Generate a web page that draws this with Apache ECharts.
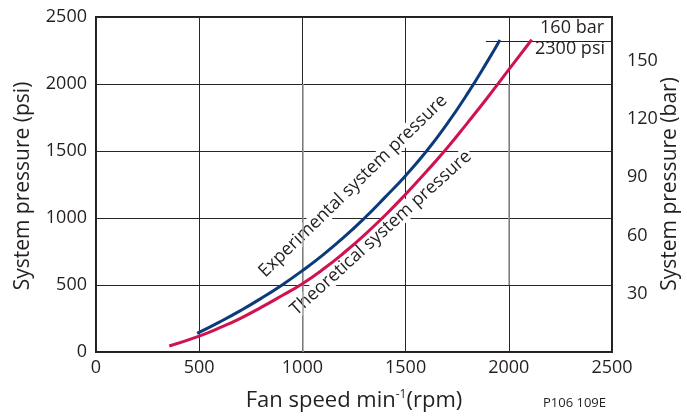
<!DOCTYPE html>
<html><head><meta charset="utf-8">
<script src="https://cdn.jsdelivr.net/npm/echarts@6/dist/echarts.min.js"></script>
<style>html,body{margin:0;padding:0;background:#fff}#c{width:687px;height:416px}</style>
</head><body><div id="c"></div>
<script>
// Fan speed (rpm) vs system pressure (psi)
const experimentalRpm = [490, 600, 700, 800, 900, 1000, 1100, 1200, 1300, 1400, 1500, 1600, 1700, 1800, 1900, 1957];
const experimentalPsi = [139, 225, 309, 400, 499, 607, 725, 855, 998, 1154, 1316, 1496, 1700, 1928, 2178, 2329];
const theoreticalRpm = [355, 500, 600, 700, 800, 900, 1000, 1100, 1200, 1300, 1400, 1500, 1600, 1700, 1800, 1900, 2000, 2111];
const theoreticalPsi = [45, 119, 181, 251, 333, 420, 510, 617, 739, 873, 1019, 1177, 1345, 1520, 1710, 1905, 2107, 2330];
const xTicks = [0, 500, 1000, 1500, 2000, 2500];
const psiTicks = [0, 500, 1000, 1500, 2000, 2500];
const barTicks = [30, 60, 90, 120, 150];
const PSI_PER_BAR = 14.5038;
const limitBar = 160, limitPsiLabel = 2300;
const limitLineStartRpm = 1889;
// lighter (grey) segments of the vertical grid lines: [rpm, fromPsi, toPsi]
const greyGridSegments = [[1000, 0, 2000], [2000, 500, 2000]];
const labels = {
  experimental: 'Experimental system pressure',
  theoretical: 'Theoretical system pressure',
  yLeft: 'System pressure (psi)',
  yRight: 'System pressure (bar)',
  code: 'P106 109E'
};

const FONT = '"Open Sans", sans-serif';
const TXT = '#231f20';
const chart = echarts.init(document.getElementById('c'));
const zip = (a, b) => a.map((v, i) => [v, b[i]]);
const limitPsi = limitBar * PSI_PER_BAR;

chart.setOption({
  animation: false,
  grid: { left: 96, right: 75, top: 17, bottom: 64, show: true, borderColor: '#231f20', borderWidth: 2 },
  xAxis: {
    type: 'value', min: xTicks[0], max: xTicks[xTicks.length - 1], interval: 500,
    axisLine: { show: false }, axisTick: { show: false },
    splitLine: { show: true, lineStyle: { color: '#2a2627', width: 1 } },
    axisLabel: { color: TXT, fontFamily: FONT, fontSize: 18, margin: 7, formatter: v => String(v) }
  },
  yAxis: [{
    type: 'value', min: psiTicks[0], max: psiTicks[psiTicks.length - 1], interval: 500,
    axisLine: { show: false }, axisTick: { show: false },
    splitLine: { show: true, lineStyle: { color: '#2a2627', width: 1 } },
    axisLabel: { color: TXT, fontFamily: FONT, fontSize: 18, margin: 9, formatter: v => String(v) }
  }, {
    type: 'value', position: 'right', min: 0, max: psiTicks[psiTicks.length - 1] / PSI_PER_BAR, interval: 30,
    axisLine: { show: false }, axisTick: { show: false }, splitLine: { show: false },
    axisLabel: { color: TXT, fontFamily: FONT, fontSize: 18, margin: 15,
      formatter: v => barTicks.includes(v) ? String(v) : '' }
  }],
  series: [{
    type: 'line', data: [], z: 1, silent: true,
    markLine: {
      silent: true, symbol: 'none', label: { show: false },
      lineStyle: { color: '#9a9a9a', width: 1.5, type: 'solid' },
      data: greyGridSegments.map(s => [{ coord: [s[0], s[1]] }, { coord: [s[0], s[2]] }])
    }
  }, {
    type: 'line', data: zip(theoreticalRpm, theoreticalPsi), smooth: true, symbol: 'none',
    lineStyle: { color: '#d0134f', width: 3 }, z: 5
  }, {
    type: 'line', data: zip(experimentalRpm, experimentalPsi), smooth: true, symbol: 'none',
    lineStyle: { color: '#0b3b7a', width: 3 }, z: 6,
    markLine: {
      silent: true, symbol: 'none', label: { show: false },
      lineStyle: { color: '#231f20', width: 1, type: 'solid' },
      data: [[{ coord: [limitLineStartRpm, limitPsi] }, { coord: [xTicks[xTicks.length - 1], limitPsi] }]]
    }
  }],
  graphic: [
    { type: 'text', x: 23, y: 186, rotation: Math.PI / 2, z: 100,
      style: { text: labels.yLeft, font: '21px ' + FONT, fill: TXT, align: 'center', verticalAlign: 'middle' } },
    { type: 'text', x: 670, y: 184, rotation: Math.PI / 2, z: 100,
      style: { text: labels.yRight, font: '21px ' + FONT, fill: TXT, align: 'center', verticalAlign: 'middle' } },
    { type: 'text', x: 354, y: 401, z: 100,
      style: { text: 'Fan speed min{s|-1}(rpm)', font: '22px ' + FONT, fill: TXT, align: 'center', verticalAlign: 'middle',
        rich: { s: { fontSize: 12, fontFamily: FONT, fill: TXT, verticalAlign: 'top', lineHeight: 24, padding: [0, 0, 10, 0] } } } },
    { type: 'text', x: 606, y: 403, z: 100,
      style: { text: labels.code, font: '13px ' + FONT, fill: TXT, align: 'right', verticalAlign: 'middle' } },
    { type: 'text', x: 604, y: 28, z: 100,
      style: { text: limitBar + ' bar', font: '18px ' + FONT, fill: TXT, align: 'right', verticalAlign: 'middle' } },
    { type: 'text', x: 605, y: 49, z: 100,
      style: { text: limitPsiLabel + ' psi', font: '18px ' + FONT, fill: TXT, align: 'right', verticalAlign: 'middle' } },
    { type: 'text', x: 353, y: 186, rotation: 44 * Math.PI / 180, z: 1,
      style: { text: labels.experimental, font: '18px ' + FONT, fill: TXT, align: 'center', verticalAlign: 'middle',
        backgroundColor: '#fff', padding: [0, 2] } },
    { type: 'text', x: 381, y: 233, rotation: 42 * Math.PI / 180, z: 1,
      style: { text: labels.theoretical, font: '18px ' + FONT, fill: TXT, align: 'center', verticalAlign: 'middle',
        backgroundColor: '#fff', padding: [0, 2] } }
  ]
});
</script></body></html>
